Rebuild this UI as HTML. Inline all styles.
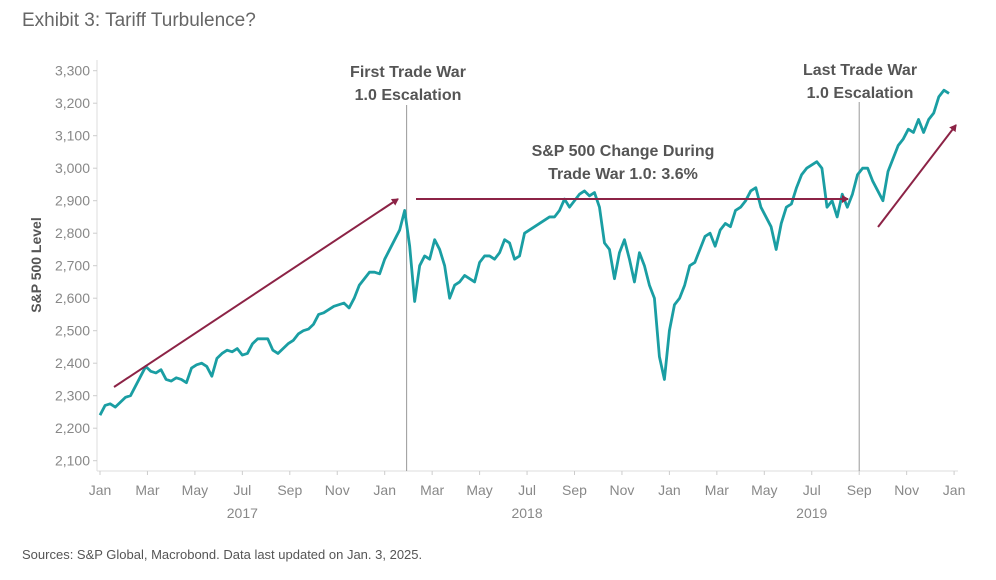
<!DOCTYPE html>
<html><head><meta charset="utf-8"><style>
body{margin:0;background:#fff;width:996px;height:575px;overflow:hidden;font-family:"Liberation Sans",sans-serif}
svg text{font-family:"Liberation Sans",sans-serif}
</style></head><body>
<svg id="c" width="996" height="575">
<text x="22" y="26" font-size="19" fill="#666">Exhibit 3: Tariff Turbulence?</text>
<text x="22" y="559" font-size="13" fill="#555">Sources: S&amp;P Global, Macrobond. Data last updated on Jan. 3, 2025.</text>
<text transform="translate(41,265) rotate(-90)" text-anchor="middle" font-size="14" font-weight="bold" fill="#555">S&amp;P 500 Level</text>
<g id="axes"></g>
<g id="marks"></g>
</svg>
<script>
const yTicks=[2100,2200,2300,2400,2500,2600,2700,2800,2900,3000,3100,3200,3300];
const monthLabels=["Jan","Mar","May","Jul","Sep","Nov","Jan","Mar","May","Jul","Sep","Nov","Jan","Mar","May","Jul","Sep","Nov","Jan"];
const yearLabels=["2017","2018","2019"];
const values2017=[2240,2270,2275,2265,2280,2295,2300,2330,2360,2390,2375,2370,2380,2350,2345,2355,2350,2340,2385,2395,2400,2390,2360,2415,2430,2440,2435,2445,2425,2430,2460,2475,2475,2475,2440,2430,2445,2460,2470,2490,2500,2505,2520,2550,2555,2565,2575,2580,2585,2570,2600,2640,2660,2680,2680,2675];
const values2018=[2720,2750,2780,2810,2870,2760,2590,2700,2730,2720,2780,2750,2700,2600,2640,2650,2670,2660,2650,2710,2730,2730,2720,2740,2780,2770,2720,2730,2800,2810,2820,2830,2840,2850,2850,2870,2905,2880,2900,2920,2930,2915,2925,2880,2770,2750,2660,2740,2780,2720,2650,2740,2700,2640,2600,2420,2350];
const values2019=[2500,2580,2600,2640,2700,2710,2750,2790,2800,2760,2810,2830,2820,2870,2880,2900,2930,2940,2880,2850,2820,2750,2830,2880,2890,2940,2980,3000,3010,3020,3000,2880,2900,2850,2920,2880,2920,2980,3000,3000,2960,2930,2900,2990,3030,3070,3090,3120,3110,3150,3110,3150,3170,3220,3240,3230];
const x0=100,pxYear=284.7;
const yOf=v=>70.7+(3300-v)*0.325;
const xOf=t=>x0+t*pxYear;
const NS="http://www.w3.org/2000/svg";
function mk(tag,attrs,parent,txt){const e=document.createElementNS(NS,tag);for(const k in attrs)e.setAttribute(k,attrs[k]);if(txt!==undefined)e.textContent=txt;parent.appendChild(e);return e;}
const ax=document.getElementById('axes'),mg=document.getElementById('marks');
let e=mk('line',{x1:97,y1:60,x2:97,y2:471,stroke:'#ddd'},ax);

e=mk('line',{x1:97,y1:471,x2:958,y2:471,stroke:'#ddd'},ax);

yTicks.forEach(v=>{const y=yOf(v);
 mk('line',{x1:93,y1:y,x2:97,y2:y,stroke:'#ccc'},ax);
 const t=mk('text',{x:90,y:y+5,'text-anchor':'end','font-size':14,fill:'#888'},ax,v.toLocaleString('en-US'));
 });
monthLabels.forEach((m,i)=>{const x=xOf(i/6);
 mk('line',{x1:x,y1:471,x2:x,y2:475,stroke:'#ccc'},ax);
 const t=mk('text',{x:x,y:495,'text-anchor':'middle','font-size':14,fill:'#888'},ax,m);
 });
yearLabels.forEach((yl,i)=>{const t=mk('text',{x:xOf(i+0.5),y:518,'text-anchor':'middle','font-size':14,fill:'#888'},ax,yl);
 });
[[1.077,105],[2+8/12,102]].forEach(([t,top],i)=>{const l=mk('line',{x1:xOf(t),y1:top,x2:xOf(t),y2:471,stroke:'#999','stroke-width':1},mg);
 });
const all=[values2017,values2018,values2019];let pts=[];
all.forEach((arr,yi)=>arr.forEach((v,i)=>pts.push([xOf(yi+i/arr.length),yOf(v)])));
const p=mk('polyline',{points:pts.map(q=>q.join(',')).join(' '),fill:'none',stroke:'#1a9ea3','stroke-width':2.8,'stroke-linejoin':'round'},mg);

const defs=mk('defs',{},mg);const mkr=mk('marker',{id:'ah',markerWidth:8,markerHeight:8,refX:6,refY:4,orient:'auto',markerUnits:'userSpaceOnUse'},defs);
mk('path',{d:'M0,0 L7,4 L0,8 Z',fill:'#8c2346'},mkr);
[[114,387,398,199,'rally-arrow-2017'],[416,199,848,199,'flat-arrow-trade-war'],[878,227,956,125,'rally-arrow-2019']].forEach(a=>{
 const l=mk('line',{x1:a[0],y1:a[1],x2:a[2],y2:a[3],stroke:'#8c2346','stroke-width':2,'marker-end':'url(#ah)'},mg);
 });
[[408,77,'First Trade War','first-annotation-l1'],[408,100,'1.0 Escalation','first-annotation-l2'],[860,75,'Last Trade War','last-annotation-l1'],[860,98,'1.0 Escalation','last-annotation-l2'],[623,156,'S&P 500 Change During','change-annotation-l1'],[623,179,'Trade War 1.0: 3.6%','change-annotation-l2']].forEach(a=>{
 const t=mk('text',{x:a[0],y:a[1],'text-anchor':'middle','font-size':16,'font-weight':'bold',fill:'#555'},mg,a[2]);
 });
</script>
</body></html>
